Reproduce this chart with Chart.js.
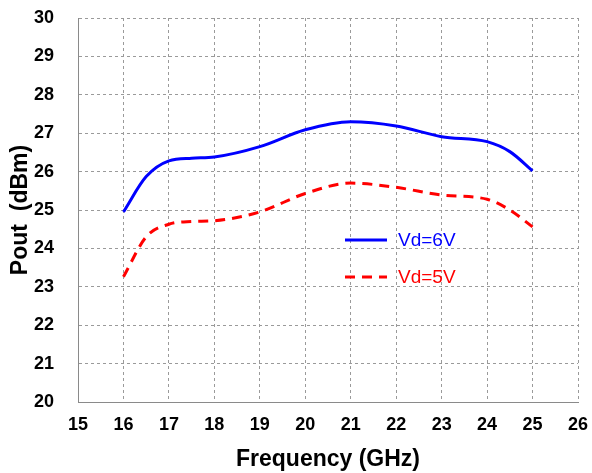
<!DOCTYPE html>
<html>
<head>
<meta charset="utf-8">
<script src="https://cdn.jsdelivr.net/npm/chart.js@4/dist/chart.umd.min.js"></script>
<style>
  html, body { margin: 0; padding: 0; background: #fff; }
  #wrap { width: 592px; height: 473px; }
</style>
</head>
<body>
<div id="wrap"><canvas id="poutChart" width="592" height="473"></canvas></div>
<script>
// Pout vs frequency, two drain voltages
const freqGHz = [16, 16.5, 17, 17.5, 18, 19, 20, 21, 22, 23, 24, 24.5, 25];
const pout6V = [24.95, 25.87, 26.28, 26.35, 26.38, 26.65, 27.09, 27.30, 27.19, 26.91, 26.78, 26.52, 26.02];
const pout5V = [23.26, 24.30, 24.63, 24.70, 24.72, 24.95, 25.43, 25.70, 25.59, 25.39, 25.28, 25.00, 24.56];
const seriesNames = ['Vd=6V', 'Vd=5V'];
const xRange = [15, 26];
const yRange = [20, 30];

const font = 'Arial, "Liberation Sans", sans-serif';
const gridDash = [3, 3];

function toPoints(xs, ys) {
    return xs.map((x, i) => ({ x: x, y: ys[i] }));
}

// little legend drawn inside the plot, like the original
const insideLegend = {
    id: 'insideLegend',
    afterDatasetsDraw(chart) {
        const ctx = chart.ctx;
        const area = chart.chartArea;
        const items = [
            { text: seriesNames[0], color: '#0000ff', dash: [], y: area.top + 222 },
            { text: seriesNames[1], color: '#ff0000', dash: [10, 7], y: area.top + 259 }
        ];
        ctx.save();
        items.forEach(it => {
            ctx.strokeStyle = it.color;
            ctx.lineWidth = 3;
            ctx.setLineDash(it.dash);
            ctx.beginPath();
            ctx.moveTo(area.left + 267, it.y);
            ctx.lineTo(area.left + 309, it.y);
            ctx.stroke();
            ctx.setLineDash([]);
            ctx.fillStyle = it.color;
            ctx.font = '19px ' + font;
            ctx.textBaseline = 'middle';
            ctx.fillText(it.text, area.left + 320, it.y + 1);
        });
        ctx.restore();
    }
};

new Chart(document.getElementById('poutChart'), {
    type: 'line',
    data: {
        datasets: [{
            label: seriesNames[0],
            data: toPoints(freqGHz, pout6V),
            borderColor: '#0000ff',
            borderWidth: 3,
            pointRadius: 0,
            cubicInterpolationMode: 'monotone',
            fill: false
        }, {
            label: seriesNames[1],
            data: toPoints(freqGHz, pout5V),
            borderColor: '#ff0000',
            borderWidth: 3,
            borderDash: [10, 7],
            pointRadius: 0,
            cubicInterpolationMode: 'monotone',
            fill: false
        }]
    },
    options: {
        responsive: false,
        animation: false,
        layout: {
            padding: { top: 18, right: 14, left: 7, bottom: 0 }
        },
        plugins: {
            legend: { display: false },
            title: { display: false },
            tooltip: { enabled: false }
        },
        scales: {
            x: {
                type: 'linear',
                min: xRange[0],
                max: xRange[1],
                ticks: {
                    stepSize: 1,
                    padding: 2,
                    color: '#000',
                    font: { family: font, size: 18, weight: 'bold' }
                },
                // invisible tick marks just push the labels away from the axis
                grid: {
                    color: '#9a9a9a',
                    lineWidth: 1,
                    drawTicks: true,
                    tickLength: 10,
                    tickColor: 'rgba(0,0,0,0)'
                },
                border: { display: true, color: '#8a8a8a', width: 1, dash: gridDash },
                title: {
                    display: true,
                    text: 'Frequency (GHz)',
                    color: '#000',
                    font: { family: font, size: 23, weight: 'bold' },
                    padding: { top: 0, bottom: 0 }
                },
                afterFit(scale) { scale.height = 71; }
            },
            y: {
                type: 'linear',
                min: yRange[0],
                max: yRange[1],
                ticks: {
                    stepSize: 1,
                    padding: 2,
                    color: '#000',
                    font: { family: font, size: 18, weight: 'bold' }
                },
                grid: {
                    color: '#9a9a9a',
                    lineWidth: 1,
                    drawTicks: true,
                    tickLength: 22,
                    tickColor: 'rgba(0,0,0,0)'
                },
                border: { display: true, color: '#8a8a8a', width: 1, dash: gridDash },
                title: {
                    display: true,
                    text: 'Pout  (dBm)',
                    color: '#000',
                    font: { family: font, size: 23, weight: 'bold' },
                    padding: { top: 0, bottom: 0 }
                },
                afterFit(scale) { scale.width = 71; }
            }
        }
    },
    plugins: [insideLegend]
});
</script>
</body>
</html>
